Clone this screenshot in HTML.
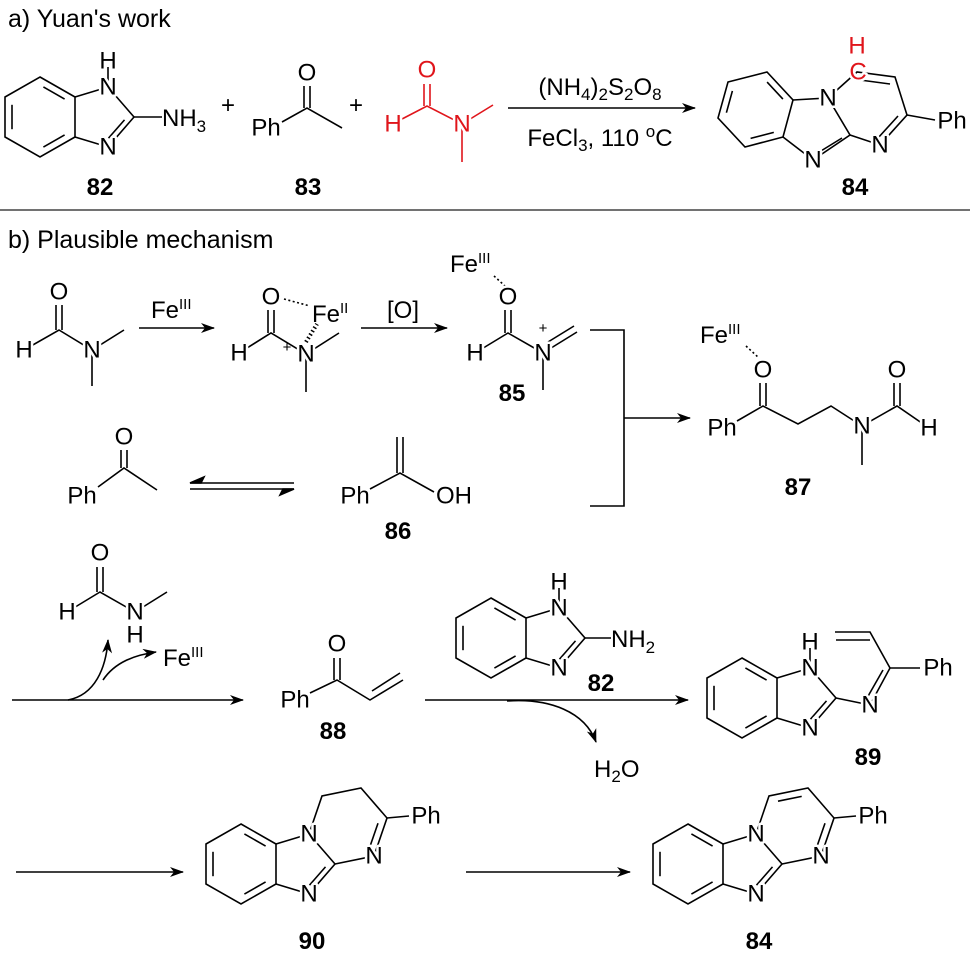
<!DOCTYPE html>
<html><head><meta charset="utf-8">
<style>
html,body{margin:0;padding:0;background:#fff}
svg{display:block}
.a{font-family:"Liberation Sans",sans-serif;font-size:24px;text-anchor:middle;dominant-baseline:central;paint-order:stroke;stroke:#fff;stroke-width:5px;stroke-linejoin:round;fill:#000}
.s{font-family:"Liberation Sans",sans-serif;font-size:24px;fill:#000}
.t{font-family:"Liberation Sans",sans-serif;font-size:25px;fill:#000}
.l{font-family:"Liberation Sans",sans-serif;font-size:24px;font-weight:bold;text-anchor:middle;fill:#000}
.r{fill:#e0151b}
line,path,polyline,polygon{stroke:#000;stroke-width:1.6;fill:none}
</style></head>
<body>
<svg width="976" height="957" viewBox="0 0 976 957" xmlns="http://www.w3.org/2000/svg">
<defs>
<marker id="ah" markerUnits="userSpaceOnUse" markerWidth="14" markerHeight="10" refX="13" refY="5" orient="auto">
<path d="M0,0 L14,5 L0,10 L4,5 z" style="fill:#000;stroke:none"/>
</marker>
</defs>

<!-- ===== a) ===== -->
<text class="t" x="8" y="27">a) Yuan's work</text>

<!-- 82 -->
<g transform="translate(40,117)">
<polygon points="0,-40 35,-20 35,20 0,40 -35,20 -35,-20"/>
<line x1="3.4" y1="-30.1" x2="24.6" y2="-17.9"/><line x1="24.6" y1="17.9" x2="3.4" y2="30.1"/><line x1="-28" y1="12.2" x2="-28" y2="-12.2"/>
<path d="M35,-20 L68,-30 L94,0 L68,30 L35,20"/>
<line x1="84.5" y1="2.9" x2="68.5" y2="21.1"/>
<line x1="94" y1="0" x2="122" y2="0"/>
<line x1="68" y1="-30" x2="68" y2="-50"/>
<text class="a" x="68" y="-30">N</text><text class="a" x="68" y="30">N</text><text class="a" x="68" y="-56">H</text>
</g>
<text class="s" x="162" y="126">NH<tspan font-size="17" dy="6">3</tspan></text>
<text class="s" x="221" y="113">+</text>

<!-- 83 -->
<polyline points="282,122 307,108 342,128"/>
<line x1="304" y1="108" x2="304" y2="86"/><line x1="310" y1="108" x2="310" y2="86"/>
<text class="a" x="307" y="73">O</text><text class="a" x="266" y="128">Ph</text>
<text class="s" x="349" y="113">+</text>

<!-- DMF red -->
<polyline points="402,119 427,106 462,124 493,105" style="stroke:#e0151b"/>
<line x1="462" y1="124" x2="462" y2="162" style="stroke:#e0151b"/>
<line x1="424" y1="106" x2="424" y2="84" style="stroke:#e0151b"/><line x1="430" y1="106" x2="430" y2="84" style="stroke:#e0151b"/>
<text class="a r" x="427" y="70">O</text><text class="a r" x="393" y="124">H</text><text class="a r" x="462" y="124">N</text>

<!-- arrow a -->
<line x1="508" y1="108" x2="695" y2="108" marker-end="url(#ah)"/>
<text class="s" x="600" y="95" text-anchor="middle">(NH<tspan font-size="17" dy="5">4</tspan><tspan dy="-5">)</tspan><tspan font-size="17" dy="5">2</tspan><tspan dy="-5">S</tspan><tspan font-size="17" dy="5">2</tspan><tspan dy="-5">O</tspan><tspan font-size="17" dy="5">8</tspan></text>
<text class="s" x="600" y="146" text-anchor="middle">FeCl<tspan font-size="17" dy="5">3</tspan><tspan dy="-5">, 110 </tspan><tspan font-size="17" dy="-9">o</tspan><tspan dy="9">C</tspan></text>

<!-- 84 top -->
<polygon points="728,82 767,72 793,100 783,137 745,147 718,118"/>
<line x1="767.1" y1="82.1" x2="782.9" y2="99.1"/><line x1="773.8" y1="132.4" x2="750.6" y2="138.4"/><line x1="726.4" y1="112.7" x2="732.4" y2="90.9"/>
<path d="M793,100 L828,98 L850,135 L813,160 L783,137"/>
<line x1="842" y1="138" x2="816" y2="154"/>
<path d="M828,98 L857,72 L895,77 L907,115 L880,145 L850,135"/>
<line x1="860" y1="80" x2="890" y2="84"/><line x1="898" y1="116" x2="878" y2="138"/>
<line x1="907" y1="115" x2="935" y2="120"/>
<text class="a" x="828" y="98">N</text><text class="a" x="813" y="160">N</text><text class="a" x="880" y="145">N</text>
<text class="a r" x="858" y="72">C</text><text class="a r" x="857" y="46">H</text>
<text class="a" x="952" y="121">Ph</text>

<text class="l" x="100" y="195">82</text><text class="l" x="308" y="195">83</text><text class="l" x="855" y="195">84</text>
<line x1="0" y1="210" x2="970" y2="210" style="stroke:#444;stroke-width:1.5"/>

<!-- ===== b) ===== -->
<text class="t" x="8" y="248">b) Plausible mechanism</text>

<!-- DMF 1 -->
<polyline points="24,350 59,330 92,350 124,330"/>
<line x1="92" y1="350" x2="92" y2="386"/>
<line x1="56" y1="330" x2="56" y2="305"/><line x1="62" y1="330" x2="62" y2="305"/>
<text class="a" x="59" y="292">O</text><text class="a" x="24" y="350">H</text><text class="a" x="92" y="350">N</text>
<line x1="139" y1="328" x2="214" y2="328" marker-end="url(#ah)"/>
<text class="s" x="151" y="318">Fe<tspan font-size="15" dy="-9">III</tspan></text>

<!-- complex -->
<polyline points="239,353 271,333 306,354 339,333"/>
<line x1="306" y1="354" x2="306" y2="392"/>
<line x1="268" y1="333" x2="268" y2="310"/><line x1="274" y1="333" x2="274" y2="310"/>
<line x1="284" y1="299" x2="310" y2="306" style="stroke-dasharray:2 2.5"/>
<line x1="306" y1="342" x2="317" y2="324" style="stroke-width:4;stroke-dasharray:1.5 2.5"/>
<text class="a" x="271" y="297">O</text><text class="a" x="239" y="353">H</text><text class="a" x="306" y="354">N</text>
<text x="287" y="352" style="font:15px 'Liberation Sans',sans-serif;text-anchor:middle">+</text>
<text class="s" x="312" y="322">Fe<tspan font-size="15" dy="-9">II</tspan></text>
<line x1="361" y1="328" x2="447" y2="328" marker-end="url(#ah)"/>
<text class="s" x="403" y="318" text-anchor="middle">[O]</text>

<!-- 85 -->
<polyline points="475,353 508,333 543,353"/>
<line x1="543" y1="353" x2="577" y2="332"/><line x1="548" y1="342" x2="574" y2="326"/>
<line x1="543" y1="353" x2="543" y2="390"/>
<line x1="505" y1="333" x2="505" y2="310"/><line x1="511" y1="333" x2="511" y2="310"/>
<line x1="494" y1="276" x2="505" y2="286" style="stroke-dasharray:2 2.5"/>
<text class="s" x="450" y="272">Fe<tspan font-size="15" dy="-9">III</tspan></text>
<text class="a" x="508" y="297">O</text><text class="a" x="475" y="353">H</text><text class="a" x="543" y="353">N</text>
<text x="543" y="333" style="font:15px 'Liberation Sans',sans-serif;text-anchor:middle">+</text>
<text class="l" x="512" y="401">85</text>

<path d="M590,330 H624 V506 H590"/>
<line x1="624" y1="418" x2="690" y2="418" marker-end="url(#ah)"/>

<!-- acetophenone -->
<polyline points="98,487 124,468 157,490"/>
<line x1="121" y1="468" x2="121" y2="450"/><line x1="127" y1="468" x2="127" y2="450"/>
<text class="a" x="124" y="437">O</text><text class="a" x="82" y="496">Ph</text>
<line x1="190" y1="483" x2="294" y2="483"/><path d="M190,483 L204,477 L201,483 z" style="fill:#000"/>
<line x1="190" y1="489" x2="294" y2="489"/><path d="M294,489 L280,495 L283,489 z" style="fill:#000"/>

<!-- 86 -->
<polyline points="370,489 400,473 434,492"/>
<line x1="397" y1="473" x2="397" y2="437"/><line x1="403" y1="473" x2="403" y2="437"/>
<text class="a" x="355" y="496">Ph</text><text class="a" x="454" y="496">OH</text>
<text class="l" x="398" y="539">86</text>

<!-- 87 -->
<polyline points="737,421 763,406 798,424 831,406 862,426 897,406 929,428"/>
<line x1="862" y1="426" x2="862" y2="465"/>
<line x1="760" y1="406" x2="760" y2="383"/><line x1="766" y1="406" x2="766" y2="383"/>
<line x1="894" y1="406" x2="894" y2="383"/><line x1="900" y1="406" x2="900" y2="383"/>
<line x1="746" y1="346" x2="759" y2="358" style="stroke-dasharray:2 2.5"/>
<text class="s" x="700" y="343">Fe<tspan font-size="15" dy="-9">III</tspan></text>
<text class="a" x="763" y="370">O</text><text class="a" x="722" y="428">Ph</text><text class="a" x="862" y="426">N</text>
<text class="a" x="897" y="370">O</text><text class="a" x="929" y="428">H</text>
<text class="l" x="798" y="495">87</text>

<!-- row 3 -->
<polyline points="67,612 100,592 135,612 167,592"/>
<line x1="97" y1="592" x2="97" y2="567"/><line x1="103" y1="592" x2="103" y2="567"/>
<text class="a" x="100" y="553">O</text><text class="a" x="67" y="612">H</text><text class="a" x="135" y="612">N</text><text class="a" x="135" y="635">H</text>
<line x1="12" y1="700" x2="243" y2="700" marker-end="url(#ah)"/>
<path d="M68,700 C95,695 106,668 108,640" marker-end="url(#ah)"/>
<path d="M103,680 C115,662 135,655 156,652" marker-end="url(#ah)"/>
<text class="s" x="163" y="666">Fe<tspan font-size="15" dy="-9">III</tspan></text>

<!-- 88 -->
<polyline points="310,693 337,680 370,700 403,680"/>
<line x1="334" y1="680" x2="334" y2="658"/><line x1="340" y1="680" x2="340" y2="658"/>
<line x1="372" y1="691" x2="400" y2="673"/>
<text class="a" x="337" y="644">O</text><text class="a" x="295" y="700">Ph</text>
<text class="l" x="333" y="739">88</text>

<line x1="425" y1="700" x2="688" y2="700" marker-end="url(#ah)"/>
<path d="M507,701 C550,698 585,712 596,742" marker-end="url(#ah)"/>
<text class="s" x="594" y="777">H<tspan font-size="17" dy="5">2</tspan><tspan dy="-5">O</tspan></text>

<!-- 82 row3 -->
<g transform="translate(491,638)">
<polygon points="0,-40 35,-20 35,20 0,40 -35,20 -35,-20"/>
<line x1="3.4" y1="-30.1" x2="24.6" y2="-17.9"/><line x1="24.6" y1="17.9" x2="3.4" y2="30.1"/><line x1="-28" y1="12.2" x2="-28" y2="-12.2"/>
<path d="M35,-20 L68,-30 L94,0 L68,30 L35,20"/>
<line x1="84.5" y1="2.9" x2="68.5" y2="21.1"/>
<line x1="94" y1="0" x2="120" y2="0"/>
<line x1="68" y1="-30" x2="68" y2="-50"/>
<text class="a" x="68" y="-30">N</text><text class="a" x="68" y="30">N</text><text class="a" x="68" y="-56">H</text>
</g>
<text class="s" x="611" y="647">NH<tspan font-size="17" dy="6">2</tspan></text>
<text class="l" x="601" y="691">82</text>

<!-- 89 -->
<g transform="translate(742,698)">
<polygon points="0,-40 35,-20 35,20 0,40 -35,20 -35,-20"/>
<line x1="3.4" y1="-30.1" x2="24.6" y2="-17.9"/><line x1="24.6" y1="17.9" x2="3.4" y2="30.1"/><line x1="-28" y1="12.2" x2="-28" y2="-12.2"/>
<path d="M35,-20 L68,-30 L94,0 L68,30 L35,20"/>
<line x1="84.5" y1="2.9" x2="68.5" y2="21.1"/>
<line x1="68" y1="-30" x2="68" y2="-50"/>
<text class="a" x="68" y="-30">N</text><text class="a" x="68" y="30">N</text><text class="a" x="68" y="-56">H</text>
</g>
<polyline points="836,698 870,705 890,668 870,632 835,632"/>
<line x1="870" y1="640" x2="836" y2="640"/>
<line x1="883" y1="670" x2="867" y2="698"/>
<line x1="890" y1="668" x2="920" y2="668"/>
<text class="a" x="870" y="705">N</text><text class="a" x="938" y="668">Ph</text>
<text class="l" x="868" y="765">89</text>

<!-- row 4 -->
<line x1="16" y1="872" x2="183" y2="872" marker-end="url(#ah)"/>
<g transform="translate(241,864)">
<polygon points="0,-40 35,-20 35,20 0,40 -35,20 -35,-20"/>
<line x1="3.4" y1="-30.1" x2="24.6" y2="-17.9"/><line x1="24.6" y1="17.9" x2="3.4" y2="30.1"/><line x1="-28" y1="12.2" x2="-28" y2="-12.2"/>
<path d="M35,-20 L68,-30 L94,0 L68,30 L35,20"/>
<line x1="84.5" y1="2.9" x2="68.5" y2="21.1"/>
<path d="M68,-30 L81,-68 L120,-76 L146,-46 L133,-8 L94,0"/>
<line x1="137" y1="-40.8" x2="129" y2="-17.6"/>
<line x1="146" y1="-46" x2="168" y2="-48"/>
<text class="a" x="68" y="-30">N</text><text class="a" x="68" y="30">N</text><text class="a" x="133" y="-8">N</text>
<text class="a" x="185" y="-48">Ph</text>
</g>
<text class="l" x="312" y="949">90</text>
<line x1="466" y1="872" x2="630" y2="872" marker-end="url(#ah)"/>
<g transform="translate(688,864)">
<polygon points="0,-40 35,-20 35,20 0,40 -35,20 -35,-20"/>
<line x1="3.4" y1="-30.1" x2="24.6" y2="-17.9"/><line x1="24.6" y1="17.9" x2="3.4" y2="30.1"/><line x1="-28" y1="12.2" x2="-28" y2="-12.2"/>
<path d="M35,-20 L68,-30 L94,0 L68,30 L35,20"/>
<line x1="84.5" y1="2.9" x2="68.5" y2="21.1"/>
<path d="M68,-30 L81,-68 L120,-76 L146,-46 L133,-8 L94,0"/>
<line x1="137" y1="-40.8" x2="129" y2="-17.6"/>
<line x1="90" y1="-62.8" x2="113.7" y2="-67.6"/>
<line x1="146" y1="-46" x2="168" y2="-48"/>
<text class="a" x="68" y="-30">N</text><text class="a" x="68" y="30">N</text><text class="a" x="133" y="-8">N</text>
<text class="a" x="185" y="-48">Ph</text>
</g>
<text class="l" x="759" y="949">84</text>
</svg>
</body></html>
